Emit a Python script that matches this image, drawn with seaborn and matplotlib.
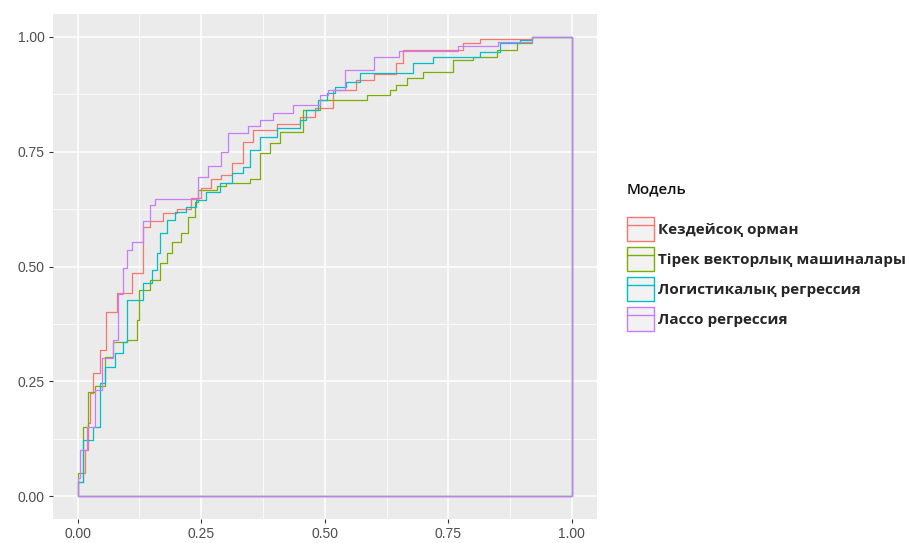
import numpy as np
import pandas as pd
import matplotlib
matplotlib.use("Agg")
import matplotlib.pyplot as plt
from matplotlib.patches import Patch
from matplotlib.lines import Line2D
import seaborn as sns

# ---- data (false positive rate, true positive rate at each step) ----
models = ["Кездейсоқ орман", "Тірек векторлық машиналары",
          "Логистикалық регрессия", "Лассо регрессия"]
colors = ["#F8766D", "#7CAE00", "#00BFC4", "#C77CFF"]

rf_fpr = [0, 0.01, 0.015, 0.02, 0.024, 0.03, 0.045, 0.058, 0.079, 0.109, 0.132, 0.146,
          0.172, 0.2, 0.23, 0.25, 0.27, 0.29, 0.312, 0.334, 0.354, 0.403, 0.449, 0.48,
          0.516, 0.564, 0.6, 0.645, 0.658, 0.78, 0.814, 0.92, 1.0]
rf_tpr = [0.03, 0.05, 0.10, 0.16, 0.224, 0.268, 0.318, 0.40, 0.442, 0.486, 0.586, 0.60,
          0.617, 0.625, 0.65, 0.67, 0.69, 0.70, 0.725, 0.771, 0.797, 0.81, 0.826, 0.845,
          0.885, 0.906, 0.92, 0.943, 0.972, 0.987, 0.996, 1.0, 1.0]

svm_fpr = [0, 0.01, 0.02, 0.034, 0.055, 0.071, 0.099, 0.119, 0.125, 0.146, 0.166, 0.18,
           0.19, 0.21, 0.223, 0.237, 0.243, 0.281, 0.301, 0.348, 0.368, 0.389, 0.41,
           0.455, 0.49, 0.585, 0.632, 0.645, 0.666, 0.698, 0.76, 0.8, 0.848, 0.889,
           0.92, 1.0]
svm_tpr = [0.05, 0.15, 0.227, 0.24, 0.303, 0.335, 0.34, 0.383, 0.449, 0.47, 0.507, 0.529,
           0.553, 0.573, 0.608, 0.64, 0.667, 0.675, 0.682, 0.69, 0.747, 0.769, 0.793,
           0.841, 0.863, 0.874, 0.885, 0.895, 0.91, 0.924, 0.95, 0.957, 0.972, 0.987,
           1.0, 1.0]

lr_fpr = [0, 0.01, 0.03, 0.045, 0.055, 0.075, 0.091, 0.1, 0.132, 0.15, 0.16, 0.166, 0.18,
          0.196, 0.22, 0.24, 0.26, 0.287, 0.312, 0.334, 0.348, 0.368, 0.403, 0.449, 0.463,
          0.486, 0.504, 0.52, 0.544, 0.571, 0.678, 0.719, 0.814, 0.854, 0.895, 0.92, 1.0]
lr_tpr = [0.03, 0.122, 0.15, 0.246, 0.281, 0.311, 0.335, 0.427, 0.464, 0.492, 0.529, 0.573,
          0.601, 0.619, 0.63, 0.645, 0.662, 0.682, 0.704, 0.717, 0.753, 0.782, 0.802, 0.819,
          0.841, 0.863, 0.878, 0.891, 0.902, 0.921, 0.943, 0.957, 0.968, 0.987, 0.993,
          1.0, 1.0]

lasso_fpr = [0, 0.004, 0.018, 0.034, 0.05, 0.071, 0.081, 0.091, 0.1, 0.109, 0.132, 0.146,
             0.156, 0.243, 0.263, 0.29, 0.304, 0.344, 0.368, 0.395, 0.435, 0.49, 0.506,
             0.54, 0.6, 0.65, 0.77, 0.85, 0.92, 1.0]
lasso_tpr = [0.04, 0.10, 0.15, 0.23, 0.30, 0.34, 0.44, 0.497, 0.536, 0.553, 0.60, 0.634,
             0.647, 0.696, 0.72, 0.75, 0.79, 0.805, 0.82, 0.834, 0.852, 0.874, 0.885,
             0.928, 0.957, 0.97, 0.98, 0.99, 1.0, 1.0]

ticks = [0.0, 0.25, 0.5, 0.75, 1.0]
tick_labels = ["0.00", "0.25", "0.50", "0.75", "1.00"]

# ---- build closed polygon paths (ROC path -> (1,0) -> (0,0) -> start) ----
frames = []
for name, fx, ty in zip(models, [rf_fpr, svm_fpr, lr_fpr, lasso_fpr],
                        [rf_tpr, svm_tpr, lr_tpr, lasso_tpr]):
    xs = list(fx) + [1.0, 0.0, fx[0]]
    ys = list(ty) + [0.0, 0.0, ty[0]]
    frames.append(pd.DataFrame({"fpr": xs, "tpr": ys, "model": name,
                                "order": np.arange(len(xs))}))
df = pd.concat(frames, ignore_index=True)

sns.set_theme(style="darkgrid", rc={
    "axes.facecolor": "#EBEBEB", "grid.color": "white",
})

fig = plt.figure(figsize=(9.19, 5.43), dpi=100)
ax = fig.add_axes([53 / 919, (543 - 519) / 543, 543.5 / 919, 505 / 543])

sns.lineplot(data=df, x="fpr", y="tpr", hue="model", hue_order=models,
             palette=colors, sort=False, estimator=None, units="model",
             drawstyle="steps-post", linewidth=0.9, legend=False, ax=ax)

ax.set_xlim(-0.05, 1.05)
ax.set_ylim(-0.05, 1.05)
ax.set_xticks(ticks)
ax.set_xticklabels(tick_labels)
ax.set_yticks(ticks)
ax.set_yticklabels(tick_labels)
ax.set_xticks([0.125, 0.375, 0.625, 0.875], minor=True)
ax.set_yticks([0.125, 0.375, 0.625, 0.875], minor=True)
ax.grid(which="major", color="white", linewidth=1.1)
ax.grid(which="minor", color="white", linewidth=0.55)
ax.set_xlabel("")
ax.set_ylabel("")
for s in ax.spines.values():
    s.set_visible(False)
ax.tick_params(axis="both", which="major", length=3, width=0.8, color="#333333",
               labelcolor="#4D4D4D", labelsize=10, pad=3, bottom=True, left=True)
ax.tick_params(axis="both", which="minor", length=0)
for lab in ax.get_xticklabels() + ax.get_yticklabels():
    lab.set_family(["Liberation Sans", "DejaVu Sans"])

handles = [(Patch(facecolor="#F2F2F2", edgecolor=c, linewidth=1.0),
            Line2D([], [], color=c, linewidth=1.0)) for c in colors]
leg = fig.legend(handles, models, loc="upper left",
                 bbox_to_anchor=(627 / 919, 1 - 182 / 543),
                 frameon=False, title="Модель", handlelength=1.75, handleheight=2.1,
                 labelspacing=0.35, handletextpad=0.25, borderaxespad=0, borderpad=0,
                 prop={"family": ["Open Sans", "DejaVu Sans"], "weight": "bold",
                       "size": 11})
leg.get_title().set_fontfamily(["Open Sans", "DejaVu Sans"])
leg.get_title().set_fontsize(11)
leg.get_title().set_fontweight("semibold")
leg.get_title().set_color("#111111")
leg._legend_box.align = "left"
leg._legend_box.sep = 15

fig.savefig("out.png", dpi=100)
